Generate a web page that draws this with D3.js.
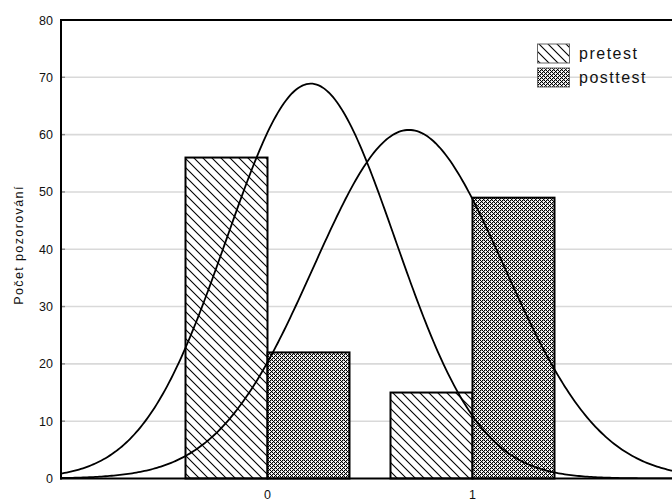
<!DOCTYPE html>
<html><head><meta charset="utf-8">
<script src="https://cdn.jsdelivr.net/npm/d3@7"></script>
<style>
html,body{margin:0;padding:0;background:#fff;}
svg{display:block;font-family:"Liberation Sans",Arial,sans-serif;}
</style></head>
<body>
<svg id="chart" width="672" height="499"></svg>
<script>
// ---- data ----
const categories = [0, 1];
const seriesNames = ["pretest", "posttest"];
const pretest = [56, 15];
const posttest = [22, 49];
const yTicks = [0, 10, 20, 30, 40, 50, 60, 70, 80];
const xTickLabels = ["0", "1"];
const yTitle = "Počet pozorování";

(function () {
const svg = d3.select("#chart");
const W = 672, H = 499;
const plotLeft = 61, plotTop = 20, plotRight = 680;

const x = d3.scaleLinear().domain([-1, 2]).range([62.5, 677.5]);
const y = d3.scaleLinear().domain([0, 80]).range([478.5, 20]);
const plotBottom = y(0);

// patterns
const defs = svg.append("defs");
const p1 = defs.append("pattern").attr("id", "hatch").attr("patternUnits", "userSpaceOnUse")
  .attr("width", 9).attr("height", 9);
p1.append("rect").attr("width", 9).attr("height", 9).attr("fill", "#fff");
p1.append("path").attr("d", "M0,0L9,9M-1,8L1,10M8,-1L10,1")
  .attr("stroke", "#000").attr("stroke-width", 1.1);

const p2 = defs.append("pattern").attr("id", "dots").attr("patternUnits", "userSpaceOnUse")
  .attr("width", 4).attr("height", 4);
p2.append("rect").attr("width", 4).attr("height", 4).attr("fill", "#000");
const cells = [[1,0,"#fff"],[3,0,"#aaa"],[0,1,"#fff"],[2,1,"#aaa"],[3,1,"#fff"],
               [1,2,"#aaa"],[3,2,"#fff"],[0,3,"#aaa"],[1,3,"#fff"],[2,3,"#fff"]];
cells.forEach(c => p2.append("rect").attr("x", c[0]).attr("y", c[1]).attr("width", 1).attr("height", 1).attr("fill", c[2]));

const clip = defs.append("clipPath").attr("id", "plotclip");
clip.append("rect").attr("x", plotLeft).attr("y", plotTop).attr("width", plotRight - plotLeft).attr("height", plotBottom - plotTop);

// gridlines
const inner = yTicks.filter(t => t > 0 && t < 80);
svg.append("g").selectAll("line").data(inner).join("line")
  .attr("x1", plotLeft).attr("x2", W).attr("y1", d => y(d)).attr("y2", d => y(d))
  .attr("stroke", "#d9d9d9").attr("stroke-width", 1.6);
svg.append("g").selectAll("line").data(inner).join("line")
  .attr("x1", plotLeft).attr("x2", plotLeft + 4).attr("y1", d => y(d)).attr("y2", d => y(d))
  .attr("stroke", "#888").attr("stroke-width", 1.4);

// bars
const barW = 0.4;
const bars = [];
categories.forEach((c, i) => {
  bars.push({x0: c - barW, x1: c, v: pretest[i], fill: "url(#hatch)"});
  bars.push({x0: c, x1: c + barW, v: posttest[i], fill: "url(#dots)"});
});
svg.append("g").selectAll("rect").data(bars).join("rect")
  .attr("x", d => x(d.x0)).attr("width", d => x(d.x1) - x(d.x0))
  .attr("y", d => y(d.v)).attr("height", d => plotBottom - y(d.v))
  .attr("fill", d => d.fill).attr("stroke", "#000").attr("stroke-width", 2);

// fitted normal curves (from the counts above)
function fit(counts) {
  const n = d3.sum(counts);
  const mean = d3.sum(counts.map((c, i) => c * categories[i])) / n;
  const v = d3.sum(counts.map((c, i) => c * (categories[i] - mean) ** 2)) / (n - 1);
  const sd = Math.sqrt(v);
  const xs = d3.range(-1.05, 2.06, 0.01);
  return xs.map(t => [t, n * Math.exp(-0.5 * ((t - mean) / sd) ** 2) / (sd * Math.sqrt(2 * Math.PI))]);
}
const line = d3.line().x(d => x(d[0])).y(d => y(d[1]));
const cg = svg.append("g").attr("clip-path", "url(#plotclip)");
[pretest, posttest].forEach(s => {
  cg.append("path").attr("d", line(fit(s))).attr("fill", "none")
    .attr("stroke", "#000").attr("stroke-width", 1.8);
});

// axes frame
svg.append("line").attr("x1", plotLeft).attr("x2", W).attr("y1", plotTop).attr("y2", plotTop)
  .attr("stroke", "#000").attr("stroke-width", 2);
svg.append("line").attr("x1", plotLeft).attr("x2", plotLeft).attr("y1", plotTop - 1).attr("y2", plotBottom + 1)
  .attr("stroke", "#000").attr("stroke-width", 2);
svg.append("line").attr("x1", plotLeft - 1).attr("x2", W).attr("y1", plotBottom).attr("y2", plotBottom)
  .attr("stroke", "#000").attr("stroke-width", 2.2);

// y tick labels
svg.append("g").selectAll("text").data(yTicks).join("text")
  .attr("x", 53).attr("y", d => y(d)).attr("dy", "0.36em")
  .attr("text-anchor", "end").attr("font-size", 12.5).attr("fill", "#111")
  .text(d => d);

// x tick labels
svg.append("g").selectAll("text").data(categories).join("text")
  .attr("x", d => x(d)).attr("y", 498.5)
  .attr("text-anchor", "middle").attr("font-size", 12.5).attr("fill", "#111")
  .text((d, i) => xTickLabels[i]);

// y title
svg.append("text").attr("transform", "translate(23,245) rotate(-90)")
  .attr("text-anchor", "middle").attr("font-size", 12.5).attr("letter-spacing", "1.4px")
  .attr("fill", "#111").text(yTitle);

// legend
const lg = svg.append("g");
const fills = ["url(#hatch)", "url(#dots)"];
seriesNames.forEach((name, i) => {
  const yy = 44 + i * 24;
  lg.append("rect").attr("x", 537.5).attr("y", yy).attr("width", 32).attr("height", 19)
    .attr("fill", fills[i]).attr("stroke", "#666").attr("stroke-width", 1);
  lg.append("text").attr("x", 579).attr("y", yy + 15).attr("font-size", 16)
    .attr("letter-spacing", "1.5px").attr("fill", "#111").text(name);
});
})();
</script>
</body></html>
